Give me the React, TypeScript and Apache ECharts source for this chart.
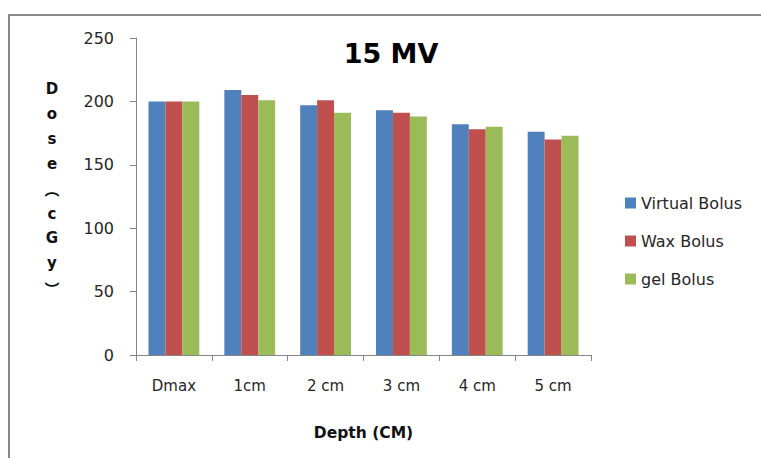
import React, { useEffect, useRef } from "react";
import * as echarts from "echarts";

// Dose measured at each depth for three bolus materials (cGy)
const depths = ["Dmax", "1cm", "2 cm", "3 cm", "4 cm", "5 cm"];
const virtualBolus = [200, 209, 197, 193, 182, 176];
const waxBolus = [200, 205, 201, 191, 178, 170];
const gelBolus = [200, 201, 191, 188, 180, 173];
const seriesNames = ["Virtual Bolus", "Wax Bolus", "gel Bolus"];
const seriesColors = ["#4F81BD", "#C0504D", "#9BBB59"];
const yTicks = { min: 0, max: 250, step: 50 };

// vertical, stacked y-axis title; the brackets use their vertical presentation forms
const yTitleChars = ["D", "o", "s", "e", "\uFE35", "c", "G", "y", "\uFE36"];

const FONT = "'DejaVu Sans', 'Open Sans', sans-serif";
const AXIS_GREY = "#868686";
const TEXT = "#262626";

export default function App() {
  const ref = useRef<HTMLDivElement>(null);

  useEffect(() => {
    if (!ref.current) return;
    const chart = echarts.init(ref.current, undefined, { renderer: "svg" });

    const yTitle = yTitleChars.map((ch, i) => {
      const isBracket = ch === "\uFE35" || ch === "\uFE36";
      return {
        type: "text",
        x: 52,
        y: 89 + i * 24.9,
        style: {
          text: ch,
          fontFamily: isBracket ? "'Noto Sans CJK SC', " + FONT : FONT,
          fontWeight: "bold",
          fontSize: 15,
          fill: "#111",
          align: "center",
          verticalAlign: "middle",
        },
      };
    });

    const values = [virtualBolus, waxBolus, gelBolus];

    chart.setOption({
      animation: false,
      backgroundColor: "#ffffff",
      title: {
        text: "15 MV",
        left: 386,
        top: 35,
        textAlign: "center",
        textStyle: {
          fontFamily: FONT,
          fontWeight: "bold",
          fontSize: 27,
          color: "#000",
        },
      },
      legend: {
        orient: "vertical",
        left: 625,
        top: 193,
        padding: 0,
        itemWidth: 11,
        itemHeight: 11,
        itemGap: 18,
        icon: "rect",
        data: seriesNames,
        textStyle: {
          fontFamily: FONT,
          fontSize: 16,
          color: TEXT,
          lineHeight: 20,
        },
      },
      grid: { left: 136, right: 170, top: 38, bottom: 103 },
      xAxis: {
        type: "category",
        data: depths,
        name: "Depth (CM)",
        nameLocation: "middle",
        nameGap: 70,
        nameTextStyle: {
          fontFamily: FONT,
          fontWeight: "bold",
          fontSize: 15.5,
          color: "#111",
        },
        axisLine: { lineStyle: { color: AXIS_GREY, width: 1 } },
        axisTick: { show: true, length: 6, lineStyle: { color: AXIS_GREY } },
        axisLabel: {
          margin: 23,
          fontFamily: FONT,
          fontSize: 15,
          color: TEXT,
        },
        splitLine: { show: false },
      },
      yAxis: {
        type: "value",
        min: yTicks.min,
        max: yTicks.max,
        interval: yTicks.step,
        axisLine: { show: true, lineStyle: { color: AXIS_GREY, width: 1 } },
        axisTick: { show: true, length: 6, lineStyle: { color: AXIS_GREY } },
        axisLabel: {
          margin: 22,
          fontFamily: FONT,
          fontSize: 16,
          color: TEXT,
        },
        splitLine: { show: false },
      },
      series: seriesNames.map((name, i) => ({
        name,
        type: "bar",
        data: values[i],
        barGap: "0%",
        barCategoryGap: "33%",
        itemStyle: { color: seriesColors[i] },
      })),
      graphic: [
        {
          type: "rect",
          shape: { x: 9, y: 15, width: 820, height: 520 },
          style: { fill: "none", stroke: "#8a8a8a", lineWidth: 2 },
          silent: true,
        },
        { type: "group", children: yTitle },
      ],
    });

    return () => chart.dispose();
  }, []);

  return (
    <div
      ref={ref}
      style={{ position: "absolute", left: 0, top: 0, width: 761, height: 458 }}
    />
  );
}
